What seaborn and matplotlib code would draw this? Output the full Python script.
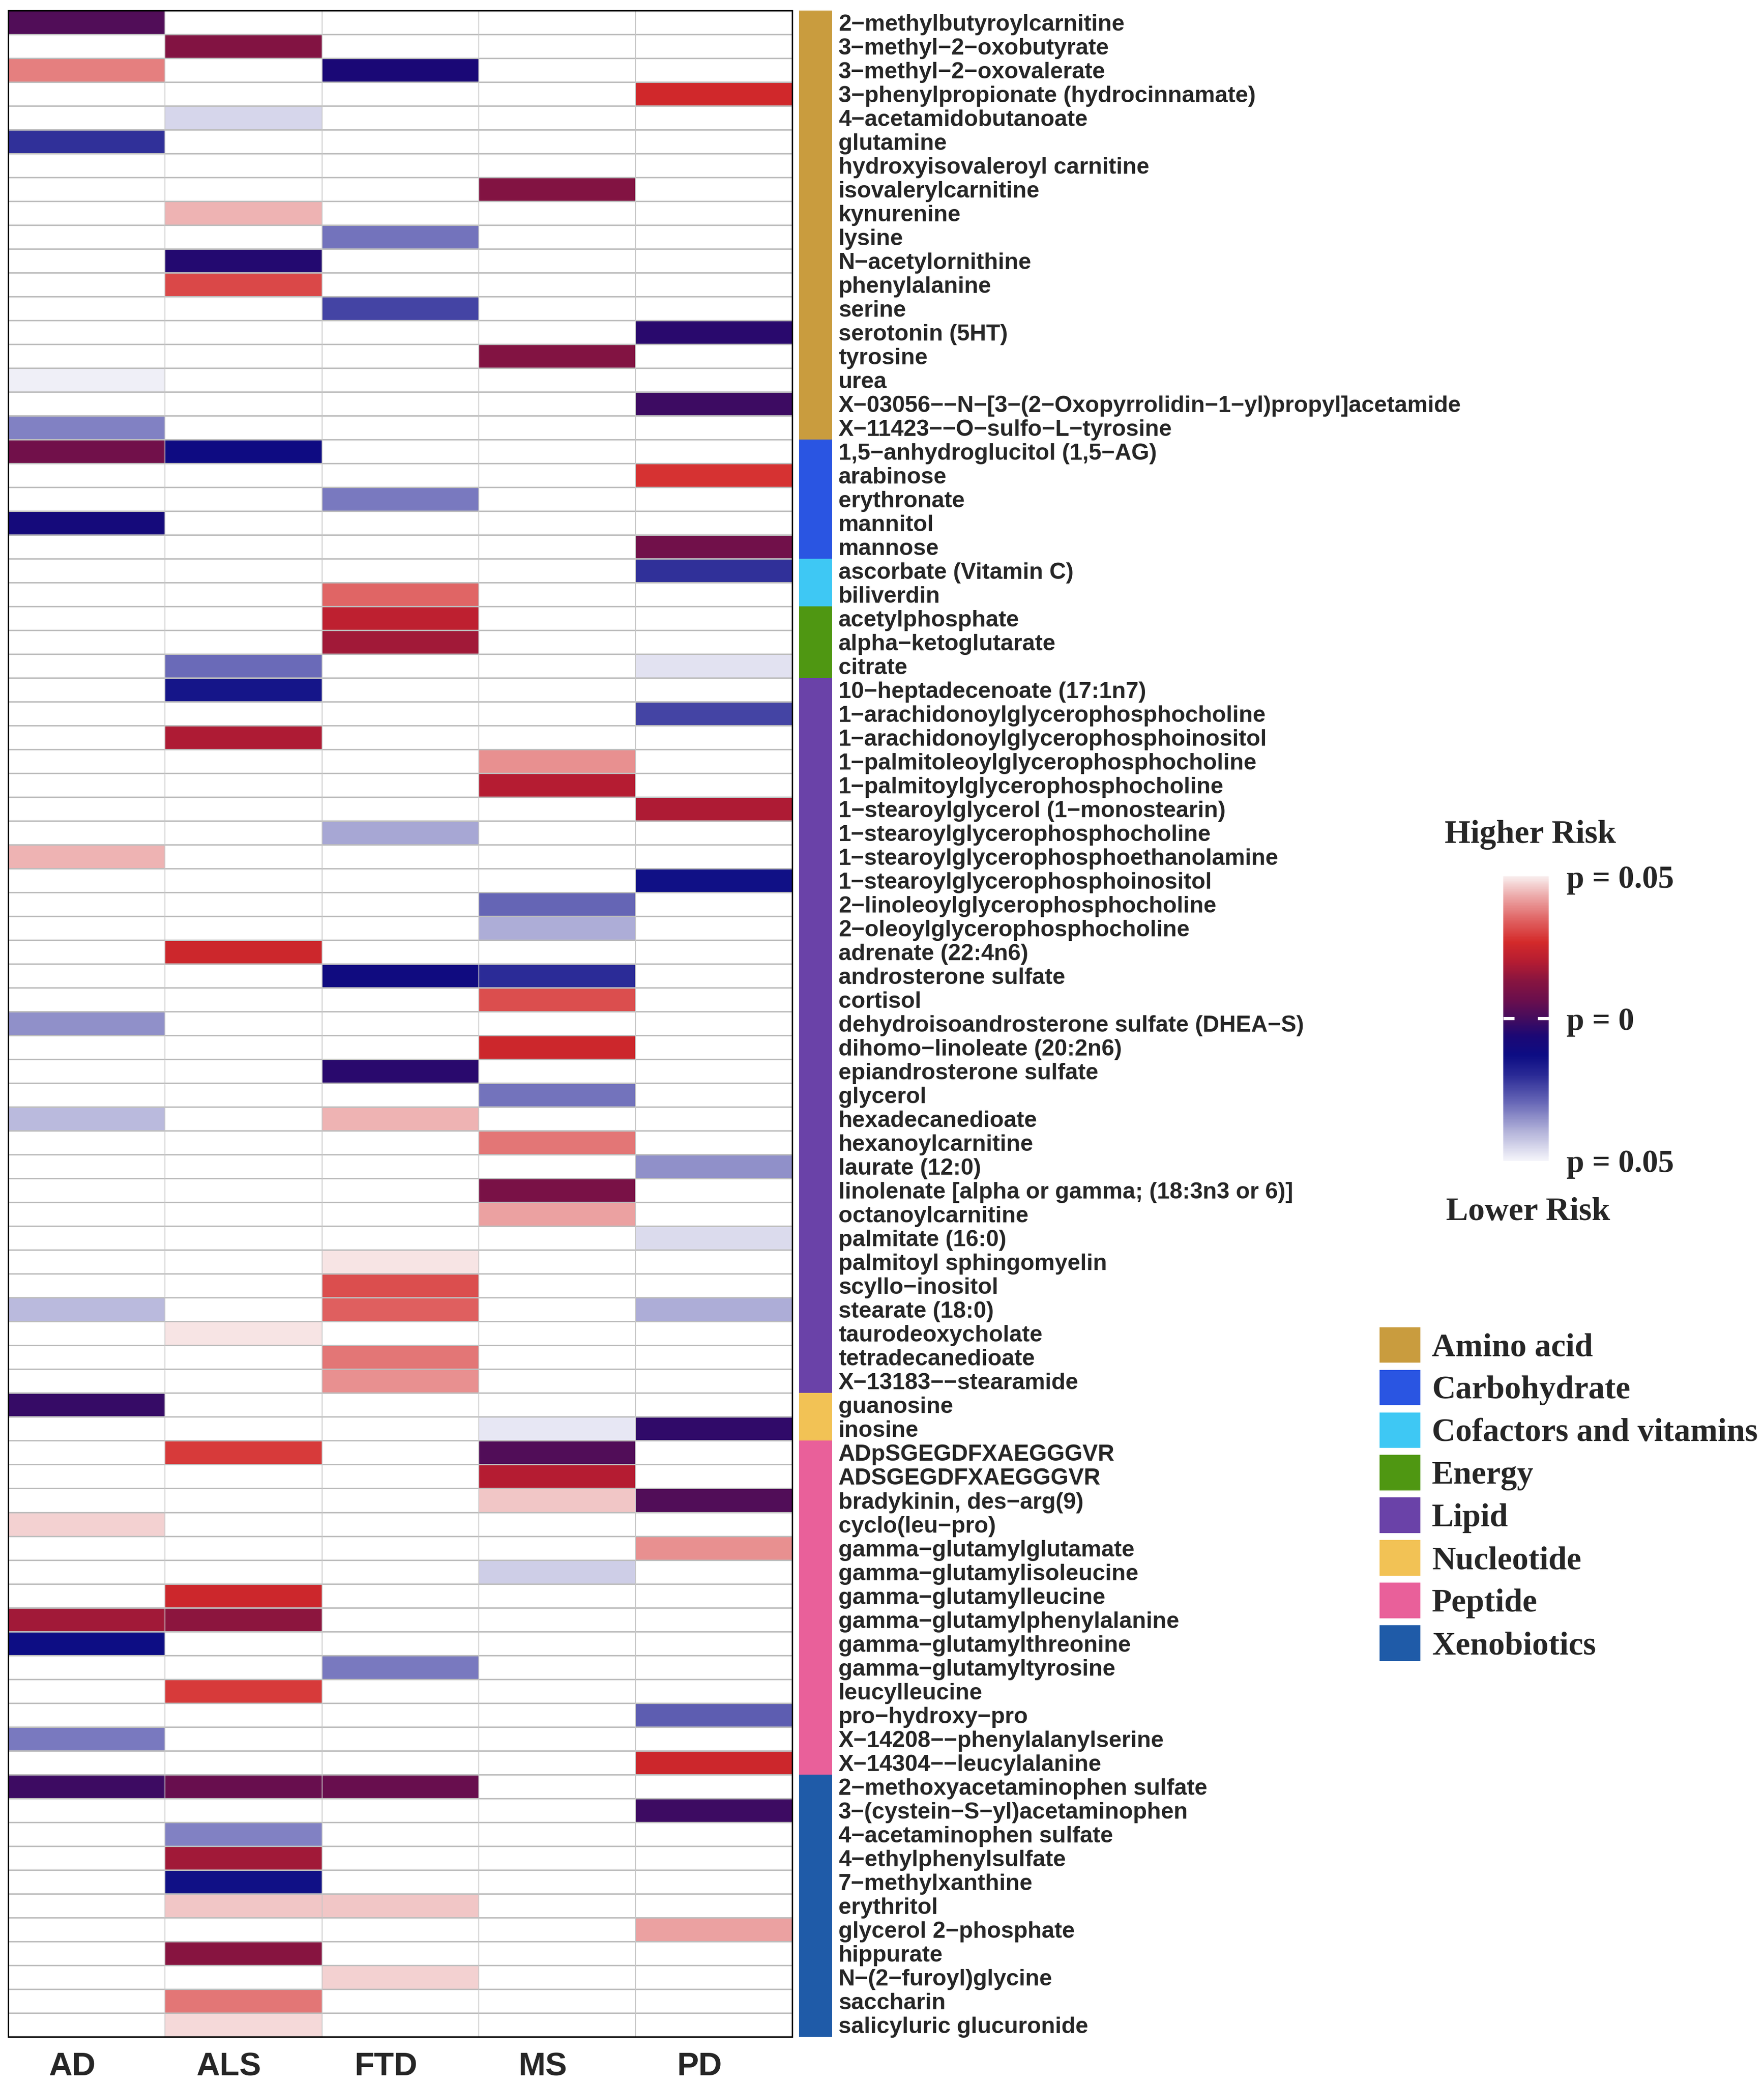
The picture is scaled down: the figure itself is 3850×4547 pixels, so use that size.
import numpy as np
import pandas as pd
import matplotlib
matplotlib.use("Agg")
import matplotlib.pyplot as plt
import matplotlib.transforms as mtransforms
import seaborn as sns
from matplotlib.colors import LinearSegmentedColormap, ListedColormap
from matplotlib.patches import Patch

# metabolites, top to bottom
metabolites = [
    "2-methylbutyroylcarnitine", "3-methyl-2-oxobutyrate", "3-methyl-2-oxovalerate",
    "3-phenylpropionate (hydrocinnamate)", "4-acetamidobutanoate", "glutamine",
    "hydroxyisovaleroyl carnitine", "isovalerylcarnitine", "kynurenine", "lysine",
    "N-acetylornithine", "phenylalanine", "serine", "serotonin (5HT)", "tyrosine", "urea",
    "X-03056--N-[3-(2-Oxopyrrolidin-1-yl)propyl]acetamide", "X-11423--O-sulfo-L-tyrosine",
    "1,5-anhydroglucitol (1,5-AG)", "arabinose", "erythronate", "mannitol", "mannose",
    "ascorbate (Vitamin C)", "biliverdin",
    "acetylphosphate", "alpha-ketoglutarate", "citrate",
    "10-heptadecenoate (17:1n7)", "1-arachidonoylglycerophosphocholine",
    "1-arachidonoylglycerophosphoinositol", "1-palmitoleoylglycerophosphocholine",
    "1-palmitoylglycerophosphocholine", "1-stearoylglycerol (1-monostearin)",
    "1-stearoylglycerophosphocholine", "1-stearoylglycerophosphoethanolamine",
    "1-stearoylglycerophosphoinositol", "2-linoleoylglycerophosphocholine",
    "2-oleoylglycerophosphocholine", "adrenate (22:4n6)", "androsterone sulfate", "cortisol",
    "dehydroisoandrosterone sulfate (DHEA-S)", "dihomo-linoleate (20:2n6)",
    "epiandrosterone sulfate", "glycerol", "hexadecanedioate", "hexanoylcarnitine",
    "laurate (12:0)", "linolenate [alpha or gamma; (18:3n3 or 6)]", "octanoylcarnitine",
    "palmitate (16:0)", "palmitoyl sphingomyelin", "scyllo-inositol", "stearate (18:0)",
    "taurodeoxycholate", "tetradecanedioate", "X-13183--stearamide",
    "guanosine", "inosine",
    "ADpSGEGDFXAEGGGVR", "ADSGEGDFXAEGGGVR", "bradykinin, des-arg(9)", "cyclo(leu-pro)",
    "gamma-glutamylglutamate", "gamma-glutamylisoleucine", "gamma-glutamylleucine",
    "gamma-glutamylphenylalanine", "gamma-glutamylthreonine", "gamma-glutamyltyrosine",
    "leucylleucine", "pro-hydroxy-pro", "X-14208--phenylalanylserine", "X-14304--leucylalanine",
    "2-methoxyacetaminophen sulfate", "3-(cystein-S-yl)acetaminophen", "4-acetaminophen sulfate",
    "4-ethylphenylsulfate", "7-methylxanthine", "erythritol", "glycerol 2-phosphate",
    "hippurate", "N-(2-furoyl)glycine", "saccharin", "salicyluric glucuronide",
]

groups = ["Amino acid", "Carbohydrate", "Cofactors and vitamins", "Energy",
          "Lipid", "Nucleotide", "Peptide", "Xenobiotics"]
group_sizes = [18, 5, 2, 3, 30, 2, 14, 11]
group_colors = ["#c99c3e", "#2a55e2", "#3ec8f4", "#4f9712", "#6a42a8", "#f2c255", "#e9609a", "#1f5ba8"]

diseases = ["AD", "ALS", "FTD", "MS", "PD"]

# signed p values: positive = higher risk, negative = lower risk (blank = not significant)
AD = {
    "2-methylbutyroylcarnitine": 0.002, "3-methyl-2-oxovalerate": 0.038, "glutamine": -0.021,
    "urea": -0.049, "X-11423--O-sulfo-L-tyrosine": -0.033, "1,5-anhydroglucitol (1,5-AG)": 0.008,
    "mannitol": -0.009, "1-stearoylglycerophosphoethanolamine": 0.044,
    "dehydroisoandrosterone sulfate (DHEA-S)": -0.035, "hexadecanedioate": -0.041,
    "stearate (18:0)": -0.041, "guanosine": -0.002, "cyclo(leu-pro)": 0.047,
    "gamma-glutamylphenylalanine": 0.017, "gamma-glutamylthreonine": -0.013,
    "X-14208--phenylalanylserine": -0.032, "2-methoxyacetaminophen sulfate": -0.001,
}
ALS = {
    "3-methyl-2-oxobutyrate": 0.012, "4-acetamidobutanoate": -0.045, "kynurenine": 0.044,
    "N-acetylornithine": -0.005, "phenylalanine": 0.031, "1,5-anhydroglucitol (1,5-AG)": -0.012,
    "citrate": -0.030, "10-heptadecenoate (17:1n7)": -0.015,
    "1-arachidonoylglycerophosphoinositol": 0.019, "adrenate (22:4n6)": 0.025,
    "taurodeoxycholate": 0.049, "ADpSGEGDFXAEGGGVR": 0.029, "gamma-glutamylleucine": 0.025,
    "gamma-glutamylphenylalanine": 0.014, "leucylleucine": 0.029,
    "2-methoxyacetaminophen sulfate": 0.006, "4-acetaminophen sulfate": -0.033,
    "4-ethylphenylsulfate": 0.017, "7-methylxanthine": -0.014, "erythritol": 0.046,
    "hippurate": 0.013, "saccharin": 0.037, "salicyluric glucuronide": 0.048,
}
FTD = {
    "3-methyl-2-oxovalerate": -0.007, "lysine": -0.031, "serine": -0.024, "erythronate": -0.032,
    "biliverdin": 0.035, "acetylphosphate": 0.022, "alpha-ketoglutarate": 0.017,
    "1-stearoylglycerophosphocholine": -0.038, "androsterone sulfate": -0.011,
    "epiandrosterone sulfate": -0.004, "hexadecanedioate": 0.044, "palmitoyl sphingomyelin": 0.049,
    "scyllo-inositol": 0.032, "stearate (18:0)": 0.034, "tetradecanedioate": 0.037,
    "X-13183--stearamide": 0.040, "gamma-glutamyltyrosine": -0.032,
    "2-methoxyacetaminophen sulfate": 0.006, "erythritol": 0.046, "N-(2-furoyl)glycine": 0.047,
}
MS = {
    "isovalerylcarnitine": 0.012, "tyrosine": 0.012, "1-palmitoleoylglycerophosphocholine": 0.040,
    "1-palmitoylglycerophosphocholine": 0.020, "2-linoleoylglycerophosphocholine": -0.029,
    "2-oleoylglycerophosphocholine": -0.039, "androsterone sulfate": -0.020, "cortisol": 0.032,
    "dihomo-linoleate (20:2n6)": 0.025, "glycerol": -0.031, "hexanoylcarnitine": 0.037,
    "linolenate [alpha or gamma; (18:3n3 or 6)]": 0.010, "octanoylcarnitine": 0.042,
    "inosine": -0.048, "ADpSGEGDFXAEGGGVR": 0.002, "ADSGEGDFXAEGGGVR": 0.020,
    "bradykinin, des-arg(9)": 0.046, "gamma-glutamylisoleucine": -0.044,
}
PD = {
    "3-phenylpropionate (hydrocinnamate)": 0.026, "serotonin (5HT)": -0.004,
    "X-03056--N-[3-(2-Oxopyrrolidin-1-yl)propyl]acetamide": -0.001, "arabinose": 0.028,
    "mannose": 0.008, "ascorbate (Vitamin C)": -0.021, "citrate": -0.047,
    "1-arachidonoylglycerophosphocholine": -0.024, "1-stearoylglycerol (1-monostearin)": 0.019,
    "1-stearoylglycerophosphoinositol": -0.014, "laurate (12:0)": -0.035,
    "palmitate (16:0)": -0.046, "stearate (18:0)": -0.039, "inosine": -0.003,
    "bradykinin, des-arg(9)": 0.002, "gamma-glutamylglutamate": 0.040, "pro-hydroxy-pro": -0.028,
    "X-14304--leucylalanine": 0.025, "3-(cystein-S-yl)acetaminophen": -0.001,
    "glycerol 2-phosphate": 0.042,
}

values = {"AD": AD, "ALS": ALS, "FTD": FTD, "MS": MS, "PD": PD}
df = pd.DataFrame({d: pd.Series(values[d]) for d in diseases}).reindex(metabolites)

cat_codes = pd.DataFrame({"class": np.repeat(np.arange(len(groups)), group_sizes)}, index=metabolites)

cmap = LinearSegmentedColormap.from_list("risk", [
    (0.00, "#f4f4fa"), (0.10, "#b4b4da"), (0.20, "#6a6ab8"), (0.30, "#2a2a96"),
    (0.37, "#0c0c84"), (0.44, "#1c0874"), (0.50, "#440c5e"), (0.56, "#680e4e"),
    (0.63, "#861440"), (0.70, "#b41c32"), (0.77, "#d42a2a"), (0.85, "#e06464"),
    (0.93, "#eca8a8"), (1.00, "#f8ecec"),
])

sns.set_theme(style="white")
plt.rcParams["font.family"] = ["Liberation Sans", "DejaVu Sans"]
serif = {"family": ["Liberation Serif", "DejaVu Serif"], "weight": "bold"}

fig = plt.figure(figsize=(38.5, 45.47), dpi=100)
ax = fig.add_axes([0.0047, 0.0227, 0.4445, 0.9723])
bax = fig.add_axes([0.4530, 0.0227, 0.0187, 0.9723])
cax = fig.add_axes([0.8522, 0.4430, 0.0257, 0.1365])

sns.heatmap(df, cmap=cmap, vmin=-0.05, vmax=0.05, ax=ax, cbar_ax=cax,
            yticklabels=False, cbar_kws={"ticks": [-0.05, 0, 0.05]})
ax.hlines(np.arange(1, len(metabolites)), 0, len(diseases), color="#bdbdbd", lw=2.2)
ax.vlines(np.arange(1, len(diseases)), 0, len(metabolites), color="#c6c6c6", lw=1.3)
for s in ax.spines.values():
    s.set_visible(True)
    s.set_color("black")
    s.set_linewidth(2.2)
ax.set_xticklabels(diseases, rotation=0, fontsize=51, fontweight="bold")
ax.tick_params(axis="x", length=0, pad=24)
shift = mtransforms.ScaledTranslation(-0.32, 0, fig.dpi_scale_trans)
for t in ax.get_xticklabels():
    t.set_transform(t.get_transform() + shift)
ax.set_xlabel("")
ax.set_ylabel("")

# class annotation bar with row labels
sns.heatmap(cat_codes, cmap=ListedColormap(group_colors), vmin=-0.5, vmax=len(groups) - 0.5,
            cbar=False, ax=bax, xticklabels=False,
            yticklabels=[m.replace("-", "\u2212") for m in metabolites])
bax.yaxis.tick_right()
bax.tick_params(axis="y", length=0, pad=10, labelright=True, labelleft=False)
for t in bax.get_yticklabels():
    t.set_rotation(0)
    t.set_ha("left")
    t.set_fontsize(36)
    t.set_fontweight("bold")
bax.set_ylabel("")

# colour bar
cbar = ax.collections[0].colorbar
cbar.outline.set_visible(False)
cbar.set_ticklabels(["p = 0.05", "p = 0", "p = 0.05"])
cax.tick_params(length=0, pad=28)
for t in cax.get_yticklabels():
    t.set_fontsize(50)
    t.set_fontfamily(serif["family"])
    t.set_fontweight("bold")
cax.hlines(0, 0, 0.24, color="white", lw=5)
cax.hlines(0, 0.76, 1, color="white", lw=5)
fig.text(0.8675, 0.5995, "Higher Risk", ha="center", va="center", fontsize=52, **serif)
fig.text(0.8662, 0.4185, "Lower Risk", ha="center", va="center", fontsize=52, **serif)

# class legend
handles = [Patch(facecolor=c, edgecolor="none") for c in group_colors]
fig.legend(handles, groups, loc="upper left", bbox_to_anchor=(0.782, 0.3632),
           frameon=False, prop={**serif, "size": 51.5}, handlelength=1.25, handleheight=1.3,
           handletextpad=0.35, labelspacing=0.21, borderpad=0, borderaxespad=0)

fig.savefig("out.png", dpi=100)
